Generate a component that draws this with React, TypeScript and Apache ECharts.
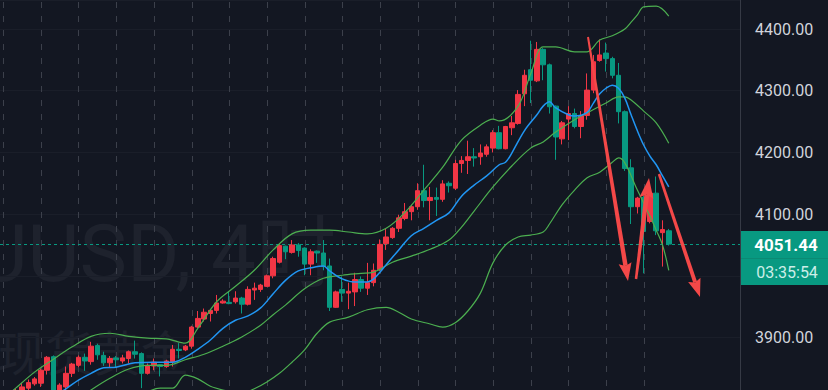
import React, { useEffect, useRef } from "react";
import * as echarts from "echarts";

// ---- Candle data (4h bars) ----
const opens = [
  3792, 3800, 3800, 3812, 3818, 3825, 3826, 3847, 3869, 3812,
  3820, 3842, 3855, 3868, 3861, 3887, 3871, 3859, 3867, 3862,
  3866, 3877, 3874, 3842, 3854, 3856, 3853, 3861, 3881, 3880,
  3886, 3917, 3930, 3939, 3944, 3956, 3957, 3958, 3964, 3954,
  3977, 3978, 3983, 4000, 4022, 4048, 4038, 4050, 4045, 4019,
  4040, 4037, 4016, 3949, 3978, 3972, 3974, 3994, 3980, 3989,
  4010, 4052, 4062, 4077, 4093, 4104, 4112, 4138, 4122, 4127,
  4124, 4150, 4142, 4182, 4187, 4193, 4193, 4197, 4207, 4232,
  4206, 4240, 4247, 4295, 4334, 4316, 4367, 4342, 4275, 4222,
  4254, 4263, 4242, 4260, 4301, 4349, 4361, 4352, 4325, 4266,
  4175, 4112, 4127, 4088, 4134, 4070, 4073,
];
const closes = [
  3800, 3806, 3812, 3820, 3827, 3833, 3847, 3868, 3808, 3823,
  3842, 3857, 3868, 3862, 3886, 3872, 3859, 3866, 3864, 3867,
  3877, 3873, 3842, 3855, 3860, 3853, 3862, 3881, 3879, 3886,
  3917, 3931, 3941, 3944, 3956, 3959, 3955, 3964, 3954, 3978,
  3980, 3985, 4000, 4028, 4049, 4039, 4050, 4041, 4019, 4039,
  4037, 4015, 3949, 3974, 3972, 3975, 3994, 3980, 3989, 4009,
  4051, 4063, 4077, 4094, 4104, 4112, 4138, 4122, 4127, 4124,
  4149, 4146, 4182, 4187, 4193, 4191, 4199, 4209, 4232, 4206,
  4242, 4248, 4294, 4325, 4317, 4367, 4342, 4274, 4225, 4248,
  4263, 4242, 4260, 4301, 4347, 4358, 4352, 4325, 4266, 4174,
  4112, 4126, 4072, 4134, 4073, 4075, 4051.44,
];
const lows = [
  3786, 3796, 3795, 3808, 3812, 3822, 3820, 3840, 3800, 3805,
  3812, 3836, 3852, 3846, 3856, 3864, 3854, 3852, 3852, 3858,
  3858, 3866, 3818, 3840, 3847, 3837, 3851, 3853, 3866, 3878,
  3882, 3915, 3926, 3926, 3939, 3955, 3954, 3955, 3939, 3952,
  3961, 3974, 3982, 3996, 4020, 4027, 4036, 4031, 4001, 4001,
  4021, 4009, 3943, 3948, 3958, 3946, 3951, 3974, 3969, 3983,
  4008, 4042, 4060, 4071, 4090, 4090, 4107, 4111, 4090, 4097,
  4120, 4135, 4139, 4167, 4165, 4177, 4180, 4193, 4200, 4205,
  4205, 4228, 4245, 4275, 4280, 4314, 4317, 4263, 4188, 4213,
  4220, 4239, 4223, 4253, 4296, 4347, 4331, 4320, 4247, 4170,
  4084, 4101, 4004, 4085, 4066, 4015, 4049,
];
const highs = [
  3804, 3810, 3818, 3826, 3832, 3836, 3850, 3870, 3871, 3826,
  3853, 3859, 3871, 3874, 3893, 3890, 3877, 3870, 3870, 3872,
  3879, 3895, 3876, 3858, 3866, 3857, 3864, 3888, 3891, 3888,
  3919, 3943, 3947, 3946, 3969, 3962, 3975, 3975, 3966, 3983,
  3989, 3987, 4002, 4031, 4051, 4049, 4058, 4053, 4046, 4043,
  4041, 4058, 4028, 3976, 3999, 3989, 4005, 3999, 4021, 4020,
  4059, 4077, 4079, 4099, 4118, 4115, 4150, 4180, 4144, 4143,
  4155, 4153, 4188, 4194, 4219, 4207, 4213, 4213, 4236, 4243,
  4243, 4259, 4301, 4334, 4381, 4379, 4369, 4344, 4276, 4251,
  4275, 4271, 4267, 4328, 4358, 4383, 4378, 4355, 4345, 4268,
  4189, 4128, 4130, 4137, 4161, 4090, 4076,
];
const futureSlots = 11;

// ---- Indicator lines: [bar index, price] ----
const upperBand = [
  [0, 3800], [2, 3818], [5, 3844], [8, 3865], [11, 3885], [14, 3902], [17, 3907],
  [20, 3902], [23, 3899], [26, 3898], [29, 3891], [31, 3915], [34, 3958],
  [37, 3983], [40, 4009], [43, 4042], [46, 4068], [49, 4074], [52, 4074],
  [55, 4071], [58, 4068], [61, 4077], [64, 4103], [67, 4139], [70, 4176],
  [73, 4220], [76, 4244], [78, 4254], [79, 4251], [82, 4275], [84, 4327],
  [86, 4371], [88, 4371], [91, 4363], [93, 4363], [95, 4382], [97, 4389],
  [99, 4400], [100, 4411], [101, 4423], [102, 4436], [104, 4437], [106, 4421],
];
const basisBand = [
  [12, 3800], [14, 3815], [17, 3834], [20, 3849], [23, 3855], [26, 3855],
  [29, 3864], [32, 3873], [35, 3886], [38, 3901], [41, 3920], [43, 3937],
  [45, 3953], [48, 3979], [51, 3996], [54, 4001], [57, 4004], [59, 4006],
  [62, 4022], [65, 4032], [68, 4043], [71, 4058], [73, 4079], [75, 4105],
  [78, 4144], [81, 4178], [84, 4207], [86, 4217], [88, 4233], [91, 4253],
  [93, 4264], [96, 4280], [98, 4290], [99, 4290], [100, 4285], [102, 4267],
  [104, 4248], [106, 4215],
];
const lowerBand = [
  [21, 3800], [23, 3812], [25, 3818], [27, 3818], [29, 3839], [31, 3833],
  [33, 3821], [35, 3815], [38, 3810], [40, 3817], [42, 3828], [44, 3842],
  [46, 3860], [48, 3880], [50, 3907], [52, 3925], [55, 3933], [58, 3945],
  [61, 3949], [63, 3941], [65, 3930], [68, 3922], [70, 3917], [72, 3924],
  [74, 3943], [76, 3972], [78, 4021], [80, 4050], [82, 4063], [84, 4066],
  [86, 4071], [87, 4084], [89, 4115], [91, 4139], [93, 4159], [95, 4168],
  [97, 4184], [98, 4191], [99, 4183], [101, 4139], [103, 4097], [104, 4074],
  [105, 4050], [106, 4009],
];
const fastMA = [
  [8, 3805], [10, 3817], [12, 3831], [14, 3842], [16, 3851], [18, 3852],
  [21, 3859], [24, 3860], [27, 3860], [29, 3868], [31, 3881], [33, 3896],
  [35, 3915], [37, 3928], [39, 3935], [41, 3948], [43, 3971], [45, 3993],
  [47, 4008], [49, 4013], [51, 4016], [52, 4008], [54, 3995], [56, 3990],
  [58, 3990], [59, 3995], [61, 4018], [63, 4042], [65, 4065], [67, 4077],
  [69, 4090], [71, 4102], [73, 4129], [75, 4147], [77, 4162], [79, 4180],
  [80, 4184], [81, 4199], [83, 4235], [85, 4261], [86, 4275], [87, 4282],
  [88, 4272], [90, 4261], [91, 4259], [93, 4265], [94, 4280], [95, 4295],
  [96, 4304], [97, 4309], [98, 4304], [99, 4288], [100, 4261], [101, 4235],
  [102, 4212], [103, 4194], [104, 4180], [105, 4162], [106, 4144],
];
const sessionStarts = [0, 6, 12, 18, 24, 30, 36, 42, 48, 54, 60, 66, 72, 78, 84, 90, 96, 102];
const lastPrice = 4051.44;
const countdown = "03:35:54";
const watermarkSymbol = "XAUUSD, 4时";
const watermarkName = "现货黄金";

const RED = "#f23645";
const GREEN = "#089981";
const ARROW = "#f44848";
const SEP = "#3c404b";

function arrow(id: string, tail: number[], tip: number[], headLen: number, headHalf: number, wTail: number, wHead: number) {
  const dx = tip[0] - tail[0];
  const dy = tip[1] - tail[1];
  const L = Math.hypot(dx, dy);
  const ux = dx / L, uy = dy / L;
  const px = -uy, py = ux;
  const bx = tip[0] - ux * headLen * 0.85, by = tip[1] - uy * headLen * 0.85;
  const hx = tip[0] - ux * headLen, hy = tip[1] - uy * headLen;
  return [
    {
      id: id + "-shaft",
      type: "polygon",
      z: 100,
      silent: true,
      shape: {
        points: [
          [tail[0] + (px * wTail) / 2, tail[1] + (py * wTail) / 2],
          [bx + (px * wHead) / 2, by + (py * wHead) / 2],
          [bx - (px * wHead) / 2, by - (py * wHead) / 2],
          [tail[0] - (px * wTail) / 2, tail[1] - (py * wTail) / 2],
        ],
      },
      style: { fill: ARROW },
    },
    {
      id: id + "-head",
      type: "polygon",
      z: 100,
      silent: true,
      shape: {
        points: [
          [tip[0], tip[1]],
          [hx + px * headHalf, hy + py * headHalf],
          [bx, by],
          [hx - px * headHalf, hy - py * headHalf],
        ],
      },
      style: { fill: ARROW },
    },
  ];
}

export default function App() {
  const ref = useRef<HTMLDivElement>(null);
  useEffect(() => {
    document.body.style.margin = "0";
    document.body.style.background = "#131722";
    if (!ref.current) return;
    const chart = echarts.init(ref.current, undefined, { renderer: "svg" });
    const categories = opens.map((_, i) => "c" + i);
    for (let i = 0; i < futureSlots; i++) categories.push("f" + i);
    const lineSeries = (name: string, arr: number[][], color: string, width: number) => ({
      name,
      type: "line",
      data: arr.map(([k, v]) => [k, v]),
      smooth: 0.35,
      symbol: "none",
      connectNulls: true,
      lineStyle: { color, width },
      z: 6,
      silent: true,
    });

    const baseGraphics: any[] = [
      {
        id: "wm1",
        type: "text",
        x: -126,
        y: 254,
        z: 0,
        silent: true,
        style: {
          text: watermarkSymbol,
          fontSize: 80,
          fontFamily: "Roboto, 'Noto Sans CJK SC'",
          fill: "#1e222d",
          align: "left",
          verticalAlign: "middle",
        },
      },
      {
        id: "wm2",
        type: "text",
        x: -3,
        y: 350,
        z: 0,
        silent: true,
        style: {
          text: watermarkName,
          fontSize: 48,
          fontFamily: "'Noto Sans CJK SC'",
          fill: "#1e222d",
          align: "left",
          verticalAlign: "middle",
        },
      },
      {
        id: "axisSep",
        type: "rect",
        z: 50,
        silent: true,
        shape: { x: 740, y: 0, width: 1, height: 390 },
        style: { fill: "#363a45" },
      },
      {
        id: "priceBox",
        type: "rect",
        z: 60,
        silent: true,
        shape: { x: 741, y: 231, width: 87, height: 54 },
        style: { fill: GREEN },
      },
      {
        id: "priceBoxSep",
        type: "rect",
        z: 61,
        silent: true,
        shape: { x: 741, y: 258, width: 87, height: 1 },
        style: { fill: "#0b8a74" },
      },
      {
        id: "priceText",
        type: "text",
        z: 62,
        silent: true,
        x: 786,
        y: 245,
        style: {
          text: lastPrice.toFixed(2),
          fontSize: 17,
          fontWeight: "bold",
          fontFamily: "Roboto",
          fill: "#ffffff",
          align: "center",
          verticalAlign: "middle",
        },
      },
      {
        id: "countdown",
        type: "text",
        z: 62,
        silent: true,
        x: 787,
        y: 272,
        style: {
          text: countdown,
          fontSize: 16,
          fontFamily: "Roboto",
          fill: "#cdeee8",
          align: "center",
          verticalAlign: "middle",
        },
      },
      ...arrow("a1", [588, 37], [628, 281], 18, 6.5, 2, 4.5),
      ...arrow("a2", [636, 279], [649, 178], 20, 7, 2.5, 5),
      ...arrow("a3", [659, 174], [700, 297], 18, 6.5, 2.5, 4),
    ];

    const option: any = {
      animation: false,
      backgroundColor: "#131722",
      grid: { left: -5, right: 87, top: 0, bottom: 0 },
      xAxis: {
        type: "category",
        data: categories,
        boundaryGap: true,
        show: false,
      },
      yAxis: {
        type: "value",
        position: "right",
        min: 3815,
        max: 4447,
        minInterval: 100,
        maxInterval: 100,
        axisLine: { show: false },
        axisTick: { show: false },
        splitLine: { show: true, lineStyle: { color: "#1a1e29", width: 1 } },
        axisLabel: {
          showMinLabel: false,
          showMaxLabel: false,
          color: "#d1d4dc",
          fontSize: 16,
          fontFamily: "Roboto",
          margin: 14,
          align: "left",
          formatter: (v: number) => (v === 4000 ? "" : v.toFixed(2)),
        },
      },
      series: [
        {
          name: "XAUUSD",
          type: "candlestick",
          data: opens.map((o, i) => [o, closes[i], lows[i], highs[i]]),
          barWidth: 5,
          z: 5,
          itemStyle: {
            color: RED,
            color0: GREEN,
            borderColor: RED,
            borderColor0: GREEN,
            borderWidth: 1,
          },
          markLine: {
            silent: true,
            symbol: ["none", "none"],
            label: { show: false },
            data: [
              {
                yAxis: lastPrice,
                lineStyle: { color: GREEN, type: [3, 3], width: 1, opacity: 1 },
              },
            ],
          },
        },
        lineSeries("Upper", upperBand, "#4caf50", 1.2),
        lineSeries("Basis", basisBand, "#4caf50", 1.2),
        lineSeries("Lower", lowerBand, "#4caf50", 1.2),
        lineSeries("MA", fastMA, "#2196f3", 1.5),
      ],
      graphic: { elements: baseGraphics },
    };
    chart.setOption(option);

    // session separators: x from the category axis scale, dashes drawn as small rects
    const slot = 746 / categories.length;
    const dashes: any[] = [];
    sessionStarts.forEach((k) => {
      let x = Number(chart.convertToPixel({ xAxisIndex: 0 }, k));
      if (!isFinite(x)) x = -5 + (k + 0.5) * slot;
      const xx = Math.round(x);
      if (xx < 0) return;
      for (let y = 2, j = 0; y < 390; y += 14, j++) {
        dashes.push({
          id: "sess-" + k + "-" + j,
          type: "rect",
          z: 1,
          silent: true,
          shape: { x: xx, y, width: 1, height: 6 },
          style: { fill: SEP },
        });
      }
    });
    chart.setOption({ graphic: { elements: [...baseGraphics, ...dashes] } });
    return () => chart.dispose();
  }, []);
  return (
    <div
      ref={ref}
      style={{ position: "absolute", left: 0, top: 0, width: 828, height: 390 }}
    />
  );
}
